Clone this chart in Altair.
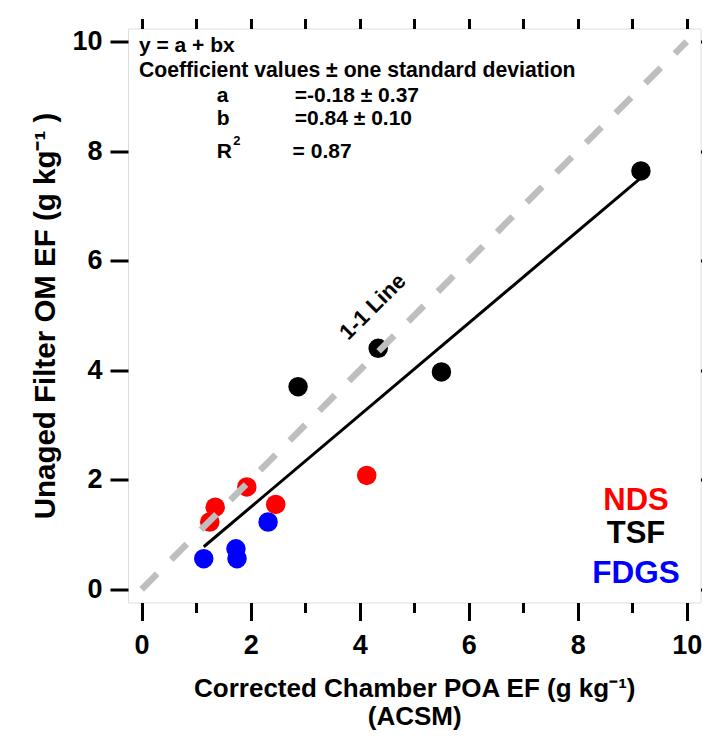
import altair as alt
import pandas as pd

FONT = "Liberation Sans"

# ---- data ----
groups = ["NDS", "TSF", "FDGS"]
group_colors = ["#FF0000", "#000000", "#0000FF"]

nds_x = [4.13, 1.93, 1.35, 1.25, 2.46]
nds_y = [2.08, 1.87, 1.50, 1.23, 1.55]
tsf_x = [9.16, 4.34, 5.50, 2.87]
tsf_y = [7.64, 4.40, 3.97, 3.70]
fdgs_x = [2.32, 1.14, 1.73, 1.75]
fdgs_y = [1.23, 0.56, 0.74, 0.56]

fit_a = -0.18
fit_a_sd = 0.37
fit_b = 0.84
fit_b_sd = 0.10
fit_r2 = 0.87

one_to_one = [0, 10]

x_major_ticks = [0, 2, 4, 6, 8, 10]
x_minor_ticks = [1, 3, 5, 7, 9]
top_ticks = [0, 1, 2, 3, 4, 5, 6, 7, 8, 9, 10]
y_major_ticks = [0, 2, 4, 6, 8, 10]

x_title = ["Corrected Chamber POA EF (g kg\u207b\u00b9)", "(ACSM)"]
y_title = "Unaged Filter OM EF (g kg\u207b\u00b9 )"

# ---- tables ----
pts = pd.DataFrame({
    "x": nds_x + tsf_x + fdgs_x,
    "y": nds_y + tsf_y + fdgs_y,
    "group": ["NDS"] * len(nds_x) + ["TSF"] * len(tsf_x) + ["FDGS"] * len(fdgs_x),
})
fx = [min(pts["x"]), max(pts["x"])]
fit_df = pd.DataFrame({"x": fx, "y": [fit_a + fit_b * v for v in fx]})
one_df = pd.DataFrame({"x": one_to_one, "y": one_to_one})
one_row = pd.DataFrame({"k": [0]})

xscale = alt.Scale(domain=[-0.25, 10.253], nice=False, zero=False)
yscale = alt.Scale(domain=[-0.24, 10.24], nice=False, zero=False)

tick_common = dict(tickWidth=3, tickColor="black", domain=False, grid=False)

points = alt.Chart(pts).mark_circle(size=380, opacity=1).encode(
    x=alt.X("x:Q", scale=xscale, axis=alt.Axis(
        orient="bottom", values=x_major_ticks, tickSize=18, format="d",
        labelFont=FONT, labelFontSize=27, labelFontWeight="bold", labelColor="black",
        labelPadding=12, labelFlush=False,
        title=x_title, titleFont=FONT, titleFontSize=26, titleFontWeight="bold",
        titleColor="black", titleLineHeight=28, titleBaseline="alphabetic", titleY=94,
        **tick_common)),
    y=alt.Y("y:Q", scale=yscale, axis=alt.Axis(
        orient="left", values=y_major_ticks, tickSize=18, format="d",
        labelFont=FONT, labelFontSize=27, labelFontWeight="bold", labelColor="black",
        labelPadding=8, labelFlush=False,
        title=y_title, titleFont=FONT, titleFontSize=29.5, titleFontWeight="bold",
        titleColor="black", titleBaseline="alphabetic", titleX=-74,
        **tick_common)),
    color=alt.Color("group:N", scale=alt.Scale(domain=groups, range=group_colors), legend=None),
)

fit_line = alt.Chart(fit_df).mark_line(color="black", strokeWidth=3).encode(
    x=alt.X("x:Q", axis=alt.Axis(orient="bottom", values=x_minor_ticks, tickSize=10,
                                 labels=False, title=None, **tick_common)),
    y=alt.Y("y:Q", axis=alt.Axis(orient="right", values=y_major_ticks, tickSize=10,
                                 labels=False, title=None, **tick_common)),
)

one_line = alt.Chart(one_df).mark_line(color="#BEBEBE", strokeWidth=6.5,
                                       strokeDash=[22, 20], strokeCap="butt").encode(
    x=alt.X("x:Q", axis=alt.Axis(orient="top", values=top_ticks, tickSize=10,
                                 labels=False, title=None, **tick_common)),
    y=alt.Y("y:Q", axis=None),
)


def note(text, x, y, size, color="black", align="left", baseline="alphabetic", angle=0):
    return alt.Chart(one_row).mark_text(
        text=text, font=FONT, fontWeight="bold", fontSize=size, color=color,
        align=align, baseline=baseline, angle=angle,
    ).encode(
        x=alt.XDatum(x, type="quantitative", axis=None),
        y=alt.YDatum(y, type="quantitative", axis=None),
    )


notes = [
    note("y = a + bx", -0.05, 9.81, 21),
    note("Coefficient values \u00b1 one standard deviation", -0.05, 9.36, 21.2),
    note("a", 1.38, 8.90, 21),
    note(f"={fit_a:.2f} \u00b1 {fit_a_sd:.2f}", 2.81, 8.90, 21),
    note("b", 1.38, 8.48, 21),
    note(f"={fit_b:.2f} \u00b1 {fit_b_sd:.2f}", 2.81, 8.48, 21),
    note("R", 1.38, 7.88, 21),
    note("2", 1.68, 8.11, 13),
    note(f"= {fit_r2:.2f}", 2.77, 7.88, 21),
    note("1-1 Line", 4.24, 5.16, 22, align="center", baseline="middle", angle=315),
    note(groups[0], 9.07, 1.44, 31, color=group_colors[0], align="center"),
    note(groups[1], 9.07, 0.84, 31, color=group_colors[1], align="center"),
    note(groups[2], 9.07, 0.11, 31.5, color=group_colors[2], align="center"),
]

chart = alt.layer(points, fit_line, one_line, *notes).resolve_axis(
    x="independent", y="independent"
).properties(
    width=572.5, height=574,
    autosize=alt.AutoSizeParams(type="none"),
    padding={"left": 120, "top": 20.5, "right": 1.5, "bottom": 127},
).configure_view(stroke="black", strokeWidth=3).configure(background="white")

chart.save("out.html", embed_options={"renderer": "svg", "actions": False})
